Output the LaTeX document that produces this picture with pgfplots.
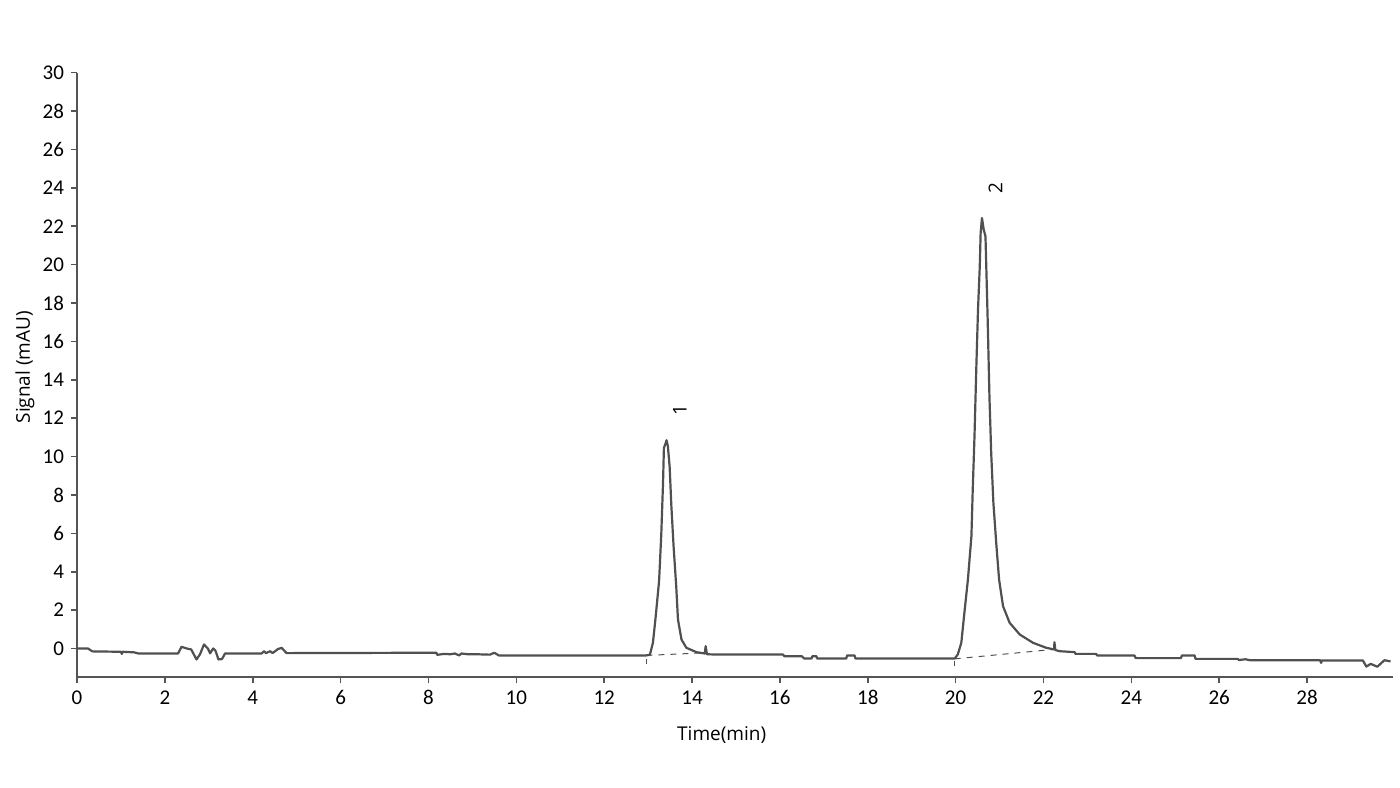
\documentclass[border=0pt]{standalone}
\usepackage{fontspec}
\setmainfont{Open Sans}
\newfontfamily\tickfont{Carlito}
\usepackage{pgfplots}
\pgfplotsset{compat=1.18}
\definecolor{trace}{HTML}{505050}
\definecolor{axcol}{HTML}{555555}
\begin{document}
\begin{tikzpicture}
\path[use as bounding box] (0,0) rectangle (700pt,393.5pt);
\begin{axis}[
  at={(38.5pt,54.85pt)}, anchor=south west,
  scale only axis, width=657.85pt, height=302.3pt,
  xmin=0, xmax=29.95, ymin=-1.5, ymax=30,
  axis lines=left,
  axis line style={-, draw=axcol, line width=0.9pt},
  tick style={draw=axcol, line width=0.8pt},
  tick align=outside, major tick length=3pt,
  xtick={0,2,...,28}, ytick={0,2,...,30},
  ticklabel style={font=\tickfont\fontsize{10.5}{12}\selectfont, text=black},
  xticklabel style={text height=7pt, text depth=0pt},
  /pgf/number format/assume math mode=true,
  xlabel={Time(min)}, ylabel={Signal (mAU)},
  xlabel style={font=\fontsize{9.5}{11}\selectfont, at={(axis description cs:0.490,-0.095)}, anchor=center},
  ylabel style={font=\fontsize{9.5}{11}\selectfont, at={(axis description cs:-0.0395,0.513)}, anchor=center, rotate=0},
  clip=false,
]
\addplot[color=trace, line width=1.1pt, line join=round] coordinates {
(0,0) (0.1,0.0) (0.25,0.0) (0.35,-0.15) (1.0,-0.17) (1.02,-0.28) (1.04,-0.17) (1.3,-0.2) (1.4,-0.26)
(2.3,-0.26) (2.38,0.09) (2.5,0.0) (2.6,-0.05) (2.72,-0.57) (2.8,-0.3) (2.89,0.21) (2.98,0.0)
(3.03,-0.25) (3.1,0.0) (3.15,-0.1) (3.22,-0.57) (3.3,-0.55) (3.37,-0.26) (4.2,-0.26) (4.26,-0.14)
(4.3,-0.24) (4.4,-0.14) (4.45,-0.24) (4.58,-0.02) (4.66,0.03) (4.77,-0.24) (8.18,-0.22) (8.2,-0.33)
(8.35,-0.28) (8.5,-0.3) (8.6,-0.26) (8.7,-0.36) (8.75,-0.26) (8.9,-0.3) (9.1,-0.3) (9.4,-0.32)
(9.5,-0.22) (9.6,-0.36) (12.95,-0.36) (13.04,-0.33) (13.11,0.30) (13.17,1.60) (13.25,3.51)
(13.30,5.94) (13.34,8.63) (13.36,10.45) (13.40,10.7) (13.42,10.85) (13.45,10.54) (13.49,9.49)
(13.53,7.41) (13.58,5.33) (13.64,3.25) (13.68,1.51) (13.76,0.47) (13.87,0.04) (14.10,-0.19)
(14.29,-0.26) (14.31,0.12) (14.34,-0.30) (14.5,-0.31) (16.07,-0.31) (16.1,-0.4) (16.5,-0.4)
(16.55,-0.52) (16.72,-0.52) (16.74,-0.4) (16.83,-0.4) (16.85,-0.52) (17.51,-0.52) (17.53,-0.36)
(17.70,-0.36) (17.72,-0.52) (19.98,-0.52) (20.05,-0.31) (20.13,0.30) (20.20,1.86) (20.28,3.59)
(20.36,5.85) (20.39,8.28) (20.43,11.06) (20.47,14.53) (20.51,17.66) (20.55,19.91) (20.57,21.65)
(20.60,22.43) (20.64,21.82) (20.68,21.47) (20.70,19.74) (20.73,17.13) (20.77,13.14) (20.81,10.19)
(20.86,7.59) (20.93,5.33) (20.99,3.59) (21.08,2.20) (21.23,1.34) (21.46,0.73) (21.76,0.30)
(22.06,0.04) (22.24,-0.05) (22.25,0.33) (22.27,-0.08) (22.37,-0.14) (22.71,-0.19) (22.73,-0.28)
(23.2,-0.28) (23.22,-0.36) (24.07,-0.36) (24.1,-0.5) (25.13,-0.5) (25.15,-0.36) (25.44,-0.36)
(25.46,-0.54) (26.42,-0.54) (26.45,-0.6) (26.6,-0.56) (26.7,-0.61) (28.3,-0.61) (28.32,-0.75)
(28.34,-0.62) (29.27,-0.62) (29.35,-0.94) (29.45,-0.8) (29.6,-0.95) (29.76,-0.61) (29.9,-0.67)
};
% integration baselines
\addplot[color=trace, line width=0.5pt, dashed] coordinates {(12.96,-0.36) (14.33,-0.22)};
\addplot[color=trace, line width=0.5pt, dashed] coordinates {(19.98,-0.54) (22.21,-0.05)};
% integration start markers
\addplot[color=trace, line width=0.6pt] coordinates {(12.96,-0.57) (12.96,-0.83)};
\addplot[color=trace, line width=0.6pt] coordinates {(19.98,-0.66) (19.98,-0.89)};
\node[rotate=90, font=\fontsize{9.5}{11}\selectfont] at (axis cs:13.72,12.4) {1};
\node[rotate=90, font=\fontsize{9.5}{11}\selectfont] at (axis cs:20.91,24.0) {2};
\end{axis}
\end{tikzpicture}
\end{document}
